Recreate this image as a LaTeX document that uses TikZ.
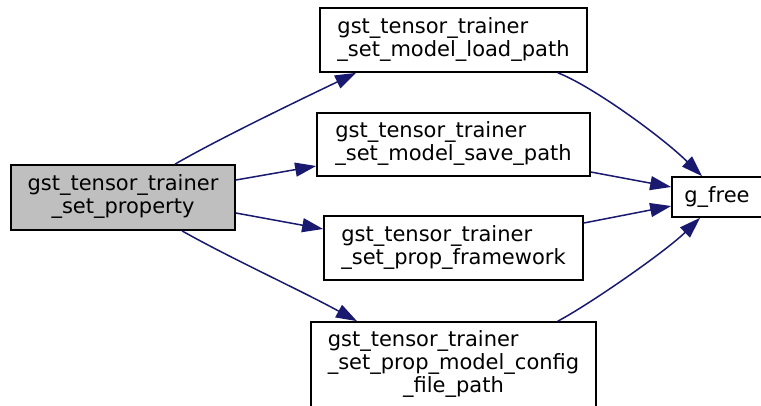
\documentclass[tikz,border=0pt]{standalone}
\usepackage{fontspec}
\setmainfont{DejaVu Sans}
\usetikzlibrary{arrows.meta}
\definecolor{edgeblue}{HTML}{191970}
\definecolor{nodegray}{HTML}{BFBFBF}
\newcommand{\dlines}[2]{\begin{tabular}{@{}l@{}}#1\\\multicolumn{1}{@{}c@{}}{#2}\end{tabular}}
\newcommand{\tlines}[3]{\begin{tabular}{@{}l@{}}#1\\#2\\\multicolumn{1}{@{}c@{}}{#3}\end{tabular}}
\tikzset{
  fnbox/.style={draw=black, line width=1.7pt, fill=white, rectangle, inner sep=0pt,
    font=\fontsize{21}{23}\selectfont, text=black},
  call/.style={draw=edgeblue, line width=1.5pt, -{Triangle[length=21pt,width=14pt]}}
}
\begin{document}
\begin{tikzpicture}[x=1pt,y=-1pt]
\useasboundingbox (0,0) rectangle (761,405);
\node[fnbox, fill=nodegray, minimum width=224pt, minimum height=65pt] (A) at (123,197.5) {\dlines{gst\_tensor\_trainer}{\_set\_property}};
\node[fnbox, minimum width=267pt, minimum height=64pt] (B) at (453.5,40) {\dlines{gst\_tensor\_trainer}{\_set\_model\_load\_path}};
\node[fnbox, minimum width=273pt, minimum height=63pt] (C) at (453.5,144.5) {\dlines{gst\_tensor\_trainer}{\_set\_model\_save\_path}};
\node[fnbox, minimum width=259pt, minimum height=64pt] (D) at (453.5,248) {\dlines{gst\_tensor\_trainer}{\_set\_prop\_framework}};
\node[fnbox, minimum width=285pt, minimum height=86pt] (E) at (453.5,365) {\tlines{gst\_tensor\_trainer}{\_set\_prop\_model\_config}{\_file\_path}};
\node[fnbox, minimum width=90pt, minimum height=40pt] (F) at (717,197) {g\_free};
% edges from A
\draw[call] ([xshift=52pt]A.north) .. controls (220,138) and (310,95) .. ([xshift=37pt]B.south west);
\draw[call] ([yshift=17.5pt]A.east) -- ([yshift=-21.5pt]C.west);
\draw[call] ([yshift=-15.5pt]A.east) -- ([yshift=19pt]D.west);
\draw[call] ([xshift=59pt]A.south) .. controls (230,258) and (300,290) .. ([xshift=-96.5pt]E.north);
% edges to F
\draw[call] ([xshift=-30pt]B.south east) .. controls (590,85) and (660,135) .. ([xshift=-15pt]F.north);
\draw[call] ([yshift=-27.5pt]C.east) -- ([yshift=10pt]F.west);
\draw[call] ([yshift=25pt]D.east) -- ([yshift=-9pt]F.west);
\draw[call] ([xshift=-39pt]E.north east) .. controls (590,304) and (665,252) .. ([xshift=-17pt]F.south);
\end{tikzpicture}
\end{document}
